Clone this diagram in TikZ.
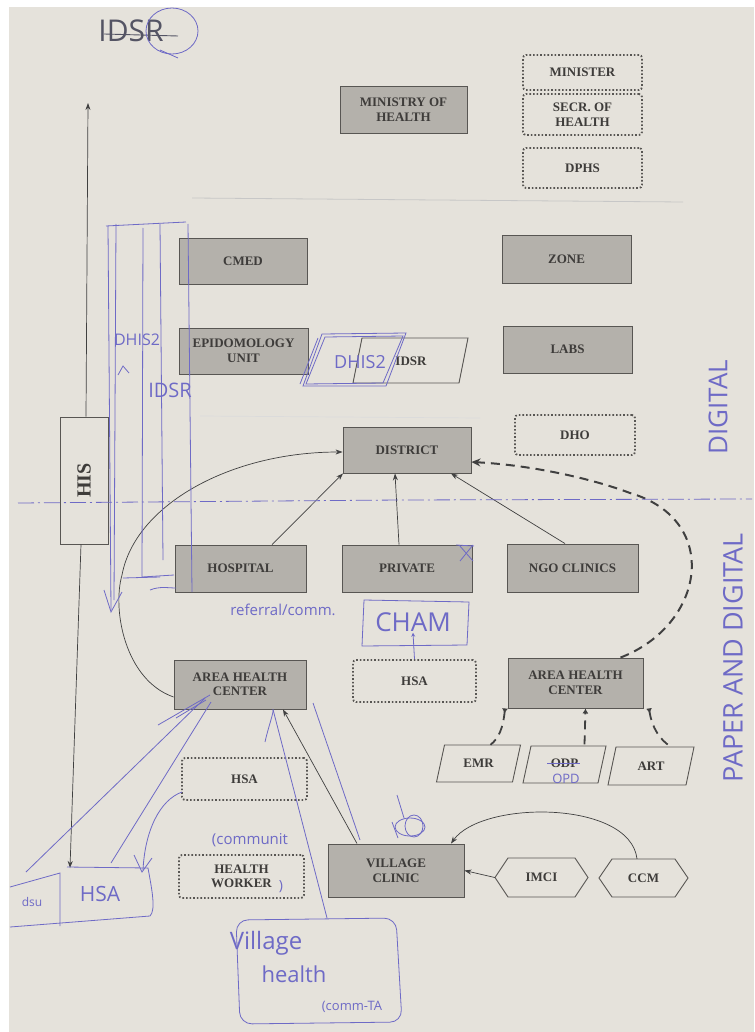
\documentclass[tikz,border=0pt]{standalone}
\usepackage{fontspec}
\setmainfont{Liberation Serif}
\newfontfamily\hand{Open Sans}
\usetikzlibrary{arrows.meta,calc}
\definecolor{paper}{RGB}{229,226,219}
\definecolor{boxfill}{RGB}{180,177,171}
\definecolor{boxline}{RGB}{88,86,83}
\definecolor{ptext}{RGB}{62,60,58}
\definecolor{ink}{RGB}{110,106,198}
\definecolor{pencil}{RGB}{84,84,100}
\newcommand\drawpara[5]{\draw[paraline] ({#1-#3/2+#5/2},{#2-#4/2}) -- ({#1+#3/2+#5/2},{#2-#4/2}) -- ({#1+#3/2-#5/2},{#2+#4/2}) -- ({#1-#3/2-#5/2},{#2+#4/2}) -- cycle;}
\newcommand\drawhex[5]{\draw[paraline] ({#1-#3/2},#2) -- ({#1-#3/2+#5},{#2-#4/2}) -- ({#1+#3/2-#5},{#2-#4/2}) -- ({#1+#3/2},#2) -- ({#1+#3/2-#5},{#2+#4/2}) -- ({#1-#3/2+#5},{#2+#4/2}) -- cycle;}
\begin{document}
\begin{tikzpicture}[x=1pt,y=-1pt,
  pfont/.style={font=\bfseries\fontsize{13}{14.5}\selectfont, text=ptext},
  pbox/.style={pfont, draw=boxline, fill=boxfill, line width=0.9pt, inner sep=0pt, align=center},
  dbox/.style={pfont, draw=boxline, line width=1.8pt, dash pattern=on 1.6pt off 2pt, rounded corners=3pt, inner sep=0pt, align=center},
  ptxt/.style={pfont, inner sep=0pt, align=center},
  paraline/.style={draw=boxline, line width=0.9pt},
  arr/.style={draw=black!75, line width=0.7pt, -{Stealth[length=7pt,width=5pt]}},
  dasharr/.style={draw=black!75, line width=2pt, dash pattern=on 9pt off 6pt},
  inkline/.style={draw=ink, line width=0.8pt},
  inktext/.style={text=ink, inner sep=0pt},
]
\useasboundingbox (0,0) rectangle (754,1032);
\fill[white] (0,0) rectangle (754,1032);
\fill[paper] (9,7) rectangle (754,1032);

% faint pencil guide lines
\draw[black!22, line width=0.8pt] (192,198) -- (683,202);
\draw[black!14, line width=0.7pt] (200,416) -- (480,418);

% ---------- printed boxes ----------
\node[pbox, minimum width=127pt, minimum height=47pt] (moh) at (403.5,109.5) {MINISTRY OF\\HEALTH};
\node[dbox, minimum width=119pt, minimum height=35pt] (minister) at (582.5,72.5) {MINISTER};
\node[dbox, minimum width=119pt, minimum height=41pt] (secr) at (582.5,114.5) {SECR. OF\\HEALTH};
\node[dbox, minimum width=119pt, minimum height=40pt] (dphs) at (582.5,168) {DPHS};

\node[pbox, minimum width=128pt, minimum height=46pt] (cmed) at (243,261) {CMED};
\node[pbox, minimum width=129pt, minimum height=48pt] (zone) at (566.5,259) {ZONE};
\node[pbox, minimum width=129pt, minimum height=46pt] (epi) at (243.5,351) {EPIDOMOLOGY\\UNIT};
\node[pbox, minimum width=129pt, minimum height=47pt] (labs) at (567.5,349.5) {LABS};
\drawpara{410.5}{360.5}{106}{45}{9}
\node[ptxt] (idsr) at (411,361) {IDSR};
\node[dbox, minimum width=120pt, minimum height=40pt] (dho) at (575,435) {DHO};
\node[pbox, minimum width=128pt, minimum height=46pt] (district) at (407,450) {DISTRICT};

\node[pbox, minimum width=131pt, minimum height=47pt] (hospital) at (240.5,568.5) {HOSPITAL};
\node[pbox, minimum width=130pt, minimum height=47pt] (private) at (407,568.5) {PRIVATE};
\node[pbox, minimum width=131pt, minimum height=48pt] (ngo) at (572.5,568) {NGO CLINICS};

\node[pbox, minimum width=132pt, minimum height=49pt] (ahcl) at (240,684.5) {AREA HEALTH\\CENTER};
\node[dbox, minimum width=123pt, minimum height=42pt] (hsamid) at (414.5,681) {HSA};
\node[pbox, minimum width=135pt, minimum height=50pt] (ahcr) at (575.5,683) {AREA HEALTH\\CENTER};

\drawpara{478.5}{763.5}{76}{37}{8}
\node[ptxt, minimum width=76pt, minimum height=37pt] (emr) at (478.5,763.5) {EMR};
\drawpara{564.5}{764.5}{75}{37}{8}
\node[ptxt, minimum width=75pt, minimum height=37pt] (opd) at (564.5,763) {ODP};
\drawpara{651}{766}{78}{38}{8}
\node[ptxt, minimum width=78pt, minimum height=38pt] (art) at (651,766) {ART};

\node[dbox, minimum width=125pt, minimum height=42pt] (hsal) at (244.5,779) {HSA};
\node[dbox, minimum width=125pt, minimum height=43pt] (hw) at (241.5,876.5) {HEALTH\\WORKER};
\node[pbox, minimum width=136pt, minimum height=53pt] (vc) at (396,870.5) {VILLAGE\\CLINIC};
\drawhex{541.5}{877.5}{93}{39}{13}
\node[ptxt, minimum width=93pt, minimum height=39pt] (imci) at (541.5,877.5) {IMCI};
\drawhex{643.5}{878}{89}{38}{13}
\node[ptxt, minimum width=89pt, minimum height=38pt] (ccm) at (643.5,878) {CCM};

% HIS axis
\node[draw=boxline, line width=0.8pt, minimum width=48pt, minimum height=127pt, inner sep=0pt] (his) at (84,480.5) {};
\node[rotate=90, font=\bfseries\fontsize{20}{20}\selectfont, text=ptext, inner sep=0pt] (histxt) at (his.center) {HIS};
\coordinate (axtop) at (88,103);
\coordinate (axbot) at (70,868);
\draw[arr] ([xshift=2pt]his.north) -- (axtop);
\draw[arr] ([xshift=-3pt]his.south) -- (axbot);

% ---------- printed connectors ----------
\draw[arr] ([xshift=31.5pt]hospital.north) -- ([xshift=-64pt]district.south);
\draw[arr] ([xshift=-8pt]private.north) -- ([xshift=-12pt]district.south);
\draw[arr] ([xshift=-7.5pt]ngo.north) -- ([xshift=44pt]district.south);
\draw[arr] ([yshift=-12.5pt]ahcl.west) .. controls (125,680) and (112,610) .. (122,575)
   .. controls (135,505) and (230,452) .. ([yshift=-2pt]district.west);
\draw[dasharr, -{Stealth[length=9pt,width=8pt]}] ([xshift=45pt]ahcr.north) .. controls (705,625) and (722,520) .. (630,493)
   .. controls (590,478) and (530,465) .. ([yshift=-12pt]district.east);
\draw[dasharr, line width=1.8pt, {Latex[reversed,length=5pt,width=6pt]}-] ([xshift=-70.5pt]ahcr.south) .. controls (503,728) and (499,738) .. ([xshift=12pt]emr.north);
\draw[dasharr, line width=1.8pt, -{Latex[length=5pt,width=6pt]}] ([xshift=20pt]opd.north) -- ([xshift=10pt]ahcr.south);
\draw[dasharr, line width=1.8pt, {Latex[reversed,length=5pt,width=6pt]}-] ([xshift=73.5pt]ahcr.south) .. controls (652,728) and (660,740) .. ([xshift=20pt]art.north);
\draw[arr] (imci.west) -- (vc.east);
\draw[arr] ([xshift=-6.5pt]ccm.north) .. controls (630,800) and (482,800) .. ([xshift=55pt]vc.north);
\draw[arr] ([xshift=-39pt]vc.north) -- ([xshift=43pt]ahcl.south);

% ---------- handwritten annotations ----------
\node[text=pencil, inner sep=0pt, font=\hand\fontsize{30}{30}\selectfont] (idsrhand) at (131,31) {IDSR};
\draw[pencil, line width=0.9pt] (104,34) -- (178,36);
\draw[inkline] (172,31) ellipse [x radius=26, y radius=23];
\draw[inkline] (160,50) -- (178,58);

\draw[ink, line width=0.8pt, dash pattern=on 16pt off 4pt on 2pt off 4pt] (18,503) -- (400,500) -- (752,499);
\node[inktext, rotate=90, font=\hand\fontsize{26}{26}\selectfont] (digital) at (718,407) {DIGITAL};
\node[inktext, rotate=90, font=\hand\fontsize{27}{27}\selectfont] (pad) at (733,658) {PAPER AND DIGITAL};

% left tall flows
\draw[inkline] (106,226) -- (186,222);
\draw[inkline] (108,226) -- (111,610);
\draw[inkline] (104,590) -- (111,612) -- (122,592);
\draw[inkline] (116,224) -- (114,600);
\draw[inkline] (143,228) -- (142,577) -- (174,575);
\draw[inkline] (160,224) -- (163,560);
\draw[inkline] (188,224) -- (192,592);
\draw[inkline] (123,578) -- (160,577);
\draw[inkline] (150,590) .. controls (160,586) and (168,588) .. (176,588);
\node[inktext, font=\hand\fontsize{16}{16}\selectfont] (dhis2a) at (137,340) {DHIS2};
\draw[inkline] (118,375) -- (123,366) -- (129,373);
\node[inktext, font=\hand\fontsize{20}{20}\selectfont] (idsra) at (170,390) {IDSR};

% DHIS2 parallelogram
\draw[inkline] (322,334) -- (406,333) -- (386,386) -- (303,386) -- cycle;
\draw[inkline] (325,337) -- (403,336) -- (383,383) -- (306,384) -- cycle;
\draw[inkline] (318,338) -- (300,384);
\node[inktext, font=\hand\fontsize{18}{18}\selectfont] (dhis2b) at (360,362) {DHIS2};

% X on private, CHAM
\draw[inkline] (459,545) -- (473,561);
\draw[inkline] (473,545) -- (460,561);
\draw[inkline] (456,545) -- (474,546);
\node[inktext, font=\hand\fontsize{15}{15}\selectfont] (referral) at (283,610) {referral/comm.};
\draw[inkline] (364,600) -- (469,602) -- (467,645) -- (362,646) -- cycle;
\node[inktext, font=\hand\fontsize{26}{26}\selectfont] (cham) at (413,622) {CHAM};
\draw[inkline, -{Stealth[length=4pt,width=4pt]}] (hsamid.north) -- ([yshift=-1pt]cham.south);

% ODP / OPD
\draw[inkline] (547,763) -- (580,763);
\node[inktext, font=\hand\fontsize{13}{13}\selectfont] (opdhand) at (566,779) {OPD};

% bottom-left handwritten
\draw[inkline] (26,872) -- (205,698);
\draw[inkline] (111,863) -- (211,702);
\draw[inkline] (158,725) -- (210,695);
\draw[inkline] (176,718) -- (206,700);
\draw[inkline] (182,792) .. controls (160,800) and (145,830) .. (143,870);
\draw[inkline] (134,855) -- (142,872) -- (152,858);
\draw[inkline] (10,887) -- (60,873) -- (60,926);
\draw[inkline] (67,867) -- (148,868) .. controls (152,890) and (156,910) .. (150,916) -- (10,927);
\node[inktext, font=\hand\fontsize{21}{21}\selectfont] (hsahand) at (100,894) {HSA};
\node[inktext, font=\hand\fontsize{12}{12}\selectfont] (dsu) at (32,902) {dsu};

\node[inktext, font=\hand\fontsize{15}{15}\selectfont] (commun) at (250,840) {(communit};
\node[inktext, font=\hand\fontsize{14}{14}\selectfont] (paren) at (281,887) {)};

\draw[inkline] ([xshift=33pt]ahcl.south) .. controls (274,712) and (268,728) .. (265,742);
\draw[inkline] ([xshift=33pt]ahcl.south) -- (327,918);
\draw[inkline] (313,703) -- (360,840);
\draw[inkline, rounded corners=12pt] (236,920) -- (396,918) -- (402,1022) -- (240,1024) -- cycle;
\node[inktext, font=\hand\fontsize{24}{24}\selectfont] (village) at (266,943) {Village};
\node[inktext, font=\hand\fontsize{22}{22}\selectfont] (health) at (294,974) {health};
\node[inktext, font=\hand\fontsize{13}{13}\selectfont] (commta) at (352,1007) {(comm-TA};

% scribble near village clinic
\draw[inkline] (397,795) -- (404,818);
\draw[inkline] (410,827) ellipse [x radius=15, y radius=9];
\draw[inkline] (414,826) ellipse [x radius=9, y radius=11];
\draw[inkline] (392,822) -- (398,838);
\end{tikzpicture}
\end{document}
